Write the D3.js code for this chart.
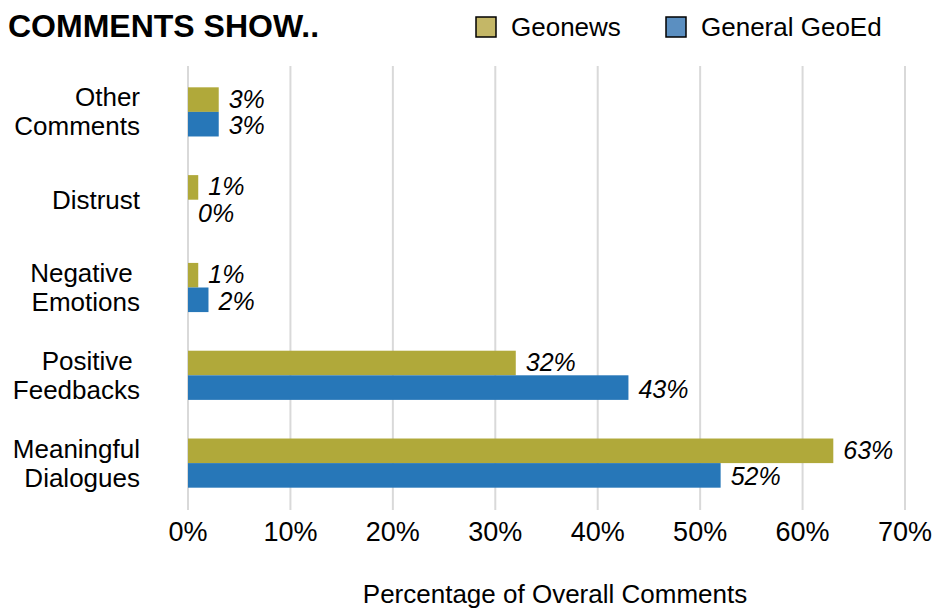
<!DOCTYPE html>
<html>
<head>
<meta charset="utf-8">
<script src="https://cdnjs.cloudflare.com/ajax/libs/d3/7.8.5/d3.min.js"></script>
<style>
  body { margin: 0; background: #fff; }
  text { font-family: "Liberation Sans", Arial, sans-serif; }
</style>
</head>
<body>
<div id="chart"></div>
<script>
var categories = [["Other", "Comments"], ["Distrust"], ["Negative ", "Emotions"], ["Positive ", "Feedbacks"], ["Meaningful", "Dialogues"]];
var series = ["Geonews", "General GeoEd"];
var geonews = [3, 1, 1, 32, 63];
var geoed = [3, 0, 2, 43, 52];
var xTicks = [0, 10, 20, 30, 40, 50, 60, 70];

var width = 942, height = 609;
var barColors = ["#b0a93a", "#2777b8"];
var swatchColors = ["#c4b767", "#5b8fc1"];

var svg = d3.select("#chart").append("svg")
    .attr("width", width).attr("height", height);

var x = d3.scaleLinear().domain([0, 70]).range([188, 905]);
var y0 = d3.scaleBand().domain(d3.range(categories.length))
    .range([68, 507]).paddingInner(0.44).paddingOuter(0.22);
var y1 = d3.scaleBand().domain(series).range([0, y0.bandwidth()]);

// gridlines
svg.append("g").selectAll("line")
  .data(xTicks).enter().append("line")
    .attr("x1", function(d) { return x(d); })
    .attr("x2", function(d) { return x(d); })
    .attr("y1", 66).attr("y2", 510)
    .attr("stroke", "#d9d9d9").attr("stroke-width", 2);

// tick labels
svg.append("g").selectAll("text")
  .data(xTicks).enter().append("text")
    .attr("x", function(d) { return x(d); })
    .attr("y", 541)
    .attr("text-anchor", "middle")
    .style("font-size", "27px")
    .text(function(d) { return d + "%"; });

var rows = categories.map(function(c, i) {
  return { label: c, values: [geonews[i], geoed[i]] };
});

var groups = svg.append("g").selectAll("g")
  .data(rows).enter().append("g")
    .attr("transform", function(d, i) { return "translate(0," + y0(i) + ")"; });

groups.selectAll("rect")
  .data(function(d) { return d.values; }).enter().append("rect")
    .attr("x", x(0))
    .attr("y", function(d, j) { return y1(series[j]); })
    .attr("width", function(d) { return x(d) - x(0); })
    .attr("height", y1.bandwidth())
    .attr("fill", function(d, j) { return barColors[j]; });

// value labels, geonews a bit higher so the pair does not collide
groups.selectAll("text.val")
  .data(function(d) { return d.values; }).enter().append("text")
    .attr("class", "val")
    .attr("x", function(d) { return x(d) + 10; })
    .attr("y", function(d, j) { return y1(series[j]) + y1.bandwidth() / 2 + (j == 0 ? 8 : 10); })
    .style("font-size", "25px")
    .style("font-style", "italic")
    .text(function(d) { return d + "%"; });

// category labels
groups.each(function(d) {
  var g = d3.select(this);
  var mid = y0.bandwidth() / 2;
  var n = d.label.length;
  d.label.forEach(function(line, k) {
    g.append("text")
      .attr("x", 140)
      .attr("y", mid + 9 + (k - (n - 1) / 2) * 29)
      .attr("text-anchor", "end")
      .style("font-size", "26px")
      .style("white-space", "pre")
      .text(line);
  });
});

// axis title
svg.append("text")
  .attr("x", 555).attr("y", 603)
  .attr("text-anchor", "middle")
  .style("font-size", "26px")
  .text("Percentage of Overall Comments");

// title
svg.append("text")
  .attr("x", 8).attr("y", 37)
  .style("font-size", "32px")
  .style("font-weight", "bold")
  .text("COMMENTS SHOW..");

// legend
var legendX = [476, 666];
var legend = svg.append("g").selectAll("g")
  .data(series).enter().append("g")
    .attr("transform", function(d, i) { return "translate(" + legendX[i] + ",17)"; });
legend.append("rect")
  .attr("width", 20).attr("height", 20)
  .attr("fill", function(d, i) { return swatchColors[i]; })
  .attr("stroke", "#000").attr("stroke-width", 1.5);
legend.append("text")
  .attr("x", 35).attr("y", 19)
  .style("font-size", "26px")
  .text(function(d) { return d; });
</script>
</body>
</html>
